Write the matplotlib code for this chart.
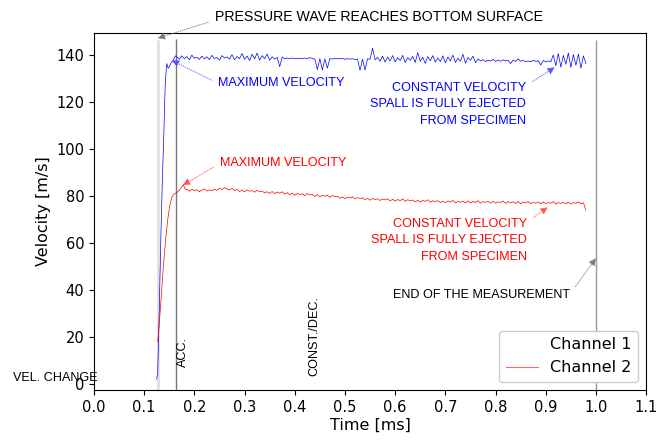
import numpy as np
import matplotlib
matplotlib.use('Agg')
import matplotlib.pyplot as plt
from matplotlib.lines import Line2D

# rise of both channels
t_rise_1 = [0.125, 0.127, 0.130, 0.133, 0.136, 0.139, 0.142, 0.145, 0.148, 0.151, 0.154, 0.157, 0.160, 0.163]
v_rise_1 = [2.0, 5.0, 30.0, 60.0, 85.0, 105.0, 128.0, 136.5, 134.5, 135.5, 137.0, 137.5, 139.0, 139.8]

t_rise_2 = [0.127, 0.131, 0.135, 0.139, 0.143, 0.147, 0.151, 0.155, 0.160, 0.165, 0.170, 0.175, 0.178, 0.182]
v_rise_2 = [18.0, 28.0, 40.0, 52.0, 62.0, 70.0, 76.0, 79.5, 81.0, 81.5, 82.5, 84.0, 84.8, 83.0]

# channel 1, steady part, 0.165 .. 0.980 ms every 0.005 ms
vel_ch1 = [
    139.3, 138.4, 139.8, 138.6, 139.5, 138.1, 140.1, 138.8, 139.2, 138.3,
    139.7, 138.5, 139.4, 138.2, 140.0, 138.7, 139.1, 138.0, 139.9, 138.9,
    139.3, 138.4, 140.3, 138.1, 139.5, 138.6, 140.8, 138.3, 139.7, 137.8,
    140.5, 138.5, 141.0, 138.0, 139.9, 138.6, 140.6, 137.9, 139.4, 138.4,
    139.1, 135.2, 139.3, 138.5, 138.9, 138.6, 138.9, 138.5, 138.8, 138.7,
    138.6, 138.9, 138.5, 139.1, 138.7, 138.4, 134.0, 138.6, 133.8, 138.5,
    134.5, 138.7, 138.4, 138.8, 138.5, 138.6, 138.7, 138.3, 138.6, 138.4,
    138.6, 138.2, 138.5, 133.6, 138.4, 133.8, 138.6, 138.3, 143.0, 138.1,
    139.1, 137.5, 139.7, 137.1, 139.3, 137.6, 139.9, 137.2, 139.0, 137.8,
    140.0, 136.9, 139.1, 137.9, 139.6, 137.0, 141.2, 137.5, 139.2, 136.6,
    139.5, 137.7, 139.9, 137.1, 138.9, 137.4, 139.8, 136.8, 139.3, 137.6,
    140.1, 137.0, 138.8, 137.5, 140.5, 136.7, 139.1, 137.9, 139.7, 136.9,
    138.5, 137.6, 138.2, 137.3, 138.0, 137.6, 138.3, 137.4, 138.0, 137.5,
    138.1, 137.6, 137.9, 136.5, 138.0, 137.4, 138.5, 137.5, 137.8, 137.4,
    137.6, 137.3, 137.9, 137.4, 137.7, 135.9, 137.8, 137.2, 137.6, 137.3,
    140.2, 135.6, 140.8, 135.0, 140.0, 136.2, 141.0, 134.9, 140.4, 135.8,
    140.6, 134.5, 139.8, 136.5,
]

# channel 2, steady part, 0.185 .. 0.975 ms every 0.005 ms, then last sample
vel_ch2 = [
    82.9, 82.1, 83.0, 82.3, 82.8, 81.9, 82.6, 83.1, 82.2, 82.7,
    82.4, 83.0, 82.5, 83.4, 82.9, 83.6, 83.1, 82.7, 83.3, 82.4,
    82.9, 82.0, 82.6, 81.8, 82.7, 82.1, 82.4, 81.7, 82.5, 81.9,
    82.2, 81.4, 81.9, 81.2, 82.0, 81.1, 81.8, 81.3, 81.9, 80.9,
    81.5, 80.6, 81.3, 80.4, 81.2, 80.7, 81.0, 80.2, 81.1, 80.5,
    80.8, 79.9, 80.6, 79.7, 80.4, 80.0, 80.5, 79.5, 80.3, 79.8,
    80.0, 79.1, 79.7, 78.9, 79.6, 79.2, 79.8, 78.8, 79.4, 79.0,
    79.3, 78.5, 79.1, 78.3, 79.0, 78.6, 78.9, 78.2, 78.8, 78.4,
    78.9, 78.0, 78.7, 77.9, 78.6, 78.1, 78.8, 77.8, 78.5, 78.0,
    78.4, 77.6, 78.3, 77.5, 78.2, 77.8, 78.5, 77.4, 78.1, 77.7,
    78.1, 77.3, 77.9, 77.2, 78.0, 77.5, 78.2, 77.1, 77.8, 77.4,
    77.9, 77.2, 78.0, 77.1, 77.8, 77.3, 78.1, 77.0, 77.7, 77.4,
    77.8, 77.1, 77.9, 77.0, 77.6, 77.3, 78.0, 76.9, 77.7, 77.2,
    77.6, 76.9, 77.8, 76.8, 77.5, 77.1, 77.7, 76.8, 77.4, 77.0,
    77.5, 76.8, 77.6, 76.7, 77.4, 77.0, 77.7, 76.6, 77.3, 76.9,
    77.4, 76.7, 77.5, 76.6, 77.3, 76.9, 77.6, 76.8, 77.2,
]
t_end_2 = 0.98
v_end_2 = 74.0

t_ch1 = np.concatenate([t_rise_1, np.linspace(0.165, 0.980, len(vel_ch1))])
v_ch1 = np.concatenate([v_rise_1, vel_ch1])
t_ch2 = np.concatenate([t_rise_2, np.linspace(0.185, 0.975, len(vel_ch2)), [t_end_2]])
v_ch2 = np.concatenate([v_rise_2, vel_ch2, [v_end_2]])

annot_font = ['Liberation Sans', 'DejaVu Sans']

fig = plt.figure(figsize=(6.71, 4.41), dpi=100)
ax = fig.add_axes([0.140, 0.116, 0.823, 0.809])

# event markers
ax.vlines(0.127, -2.5, 146.5, color='#dddddd', lw=1.8, zorder=1)
ax.vlines(0.163, -2.5, 147.0, color='#777777', lw=1.0, zorder=1)
ax.vlines(1.0, -2.5, 146.5, color='#999999', lw=1.0, zorder=1)

ax.plot(t_ch1, v_ch1, color='blue', lw=0.5, zorder=3)
ax.plot(t_ch2, v_ch2, color='red', lw=0.5, zorder=3)

ax.set_xlim(0, 1.1)
ax.set_ylim(-2.5, 149.5)
ax.set_xticks(np.arange(0, 1.11, 0.1))
ax.set_yticks(np.arange(0, 141, 20))
ax.tick_params(labelsize=10.5)
ax.set_xlabel('Time [ms]', fontsize=11.5, labelpad=2)
ax.set_ylabel('Velocity [m/s]', fontsize=11.5, labelpad=4)


def note(txt, xy, xytext, col, acol, ha='left', relpos=(0, 0.5), size=9.1):
    ax.annotate(txt, xy=xy, xytext=xytext, color=col, fontsize=size,
                family=annot_font, ha=ha, va='center', linespacing=1.5,
                annotation_clip=False,
                arrowprops=dict(arrowstyle='-|>', color=acol, lw=0.6, ls=':',
                                mutation_scale=11, relpos=relpos,
                                shrinkA=3, shrinkB=0))


note('PRESSURE WAVE REACHES BOTTOM SURFACE', (0.127, 147.3), (0.241, 156.2),
     'black', '#777777', relpos=(0, 0.3), size=10.2)
note('MAXIMUM VELOCITY', (0.155, 137.9), (0.247, 128.1), 'blue', '#5555ff')
note('CONSTANT VELOCITY\nSPALL IS FULLY EJECTED\nFROM SPECIMEN', (0.918, 134.9),
     (0.861, 119.1), 'blue', '#5555ff', ha='right', relpos=(1, 0.92))
note('MAXIMUM VELOCITY', (0.177, 84.7), (0.251, 94.0), 'red', '#ff5555')
note('CONSTANT VELOCITY\nSPALL IS FULLY EJECTED\nFROM SPECIMEN', (0.904, 75.3),
     (0.863, 61.3), 'red', '#ff5555', ha='right', relpos=(1, 0.9))
note('END OF THE MEASUREMENT', (1.0, 53.6), (0.596, 37.9), 'black', '#777777',
     relpos=(1, 0.6))

ax.text(0.177, 13.6, 'ACC.', rotation=90, ha='center', va='center',
        fontsize=9.1, family=annot_font, color='black')
ax.text(0.44, 20.4, 'CONST./DEC.', rotation=90, ha='center', va='center',
        fontsize=9.1, family=annot_font, color='black')
ax.text(-0.161, 2.6, 'VEL. CHANGE', ha='left', va='center', fontsize=9.1,
        family=annot_font, color='black', clip_on=False)

handles = [Line2D([], [], color='white', lw=0.8),
           Line2D([], [], color='#ff6666', lw=0.8)]
ax.legend(handles, ['Channel 1', 'Channel 2'], loc='lower right',
          fontsize=11.5, framealpha=1)

fig.savefig('out.png', dpi=100)
